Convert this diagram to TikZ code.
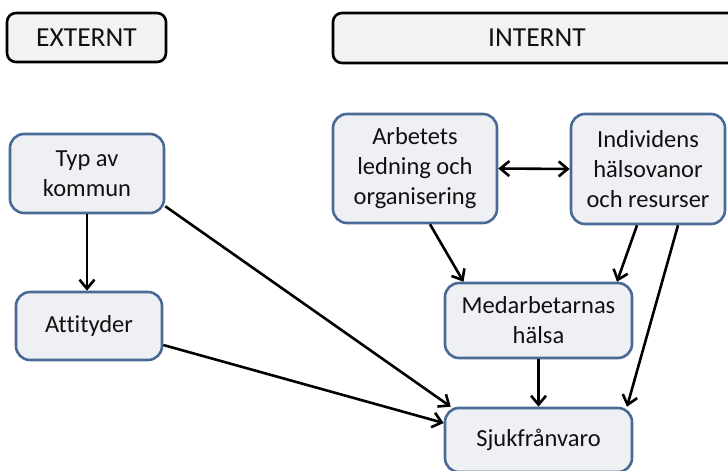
\documentclass[tikz,border=0pt]{standalone}
\usepackage{fontspec}
\setmainfont[Ligatures=NoCommon]{Carlito}
\usetikzlibrary{arrows.meta,calc}
\definecolor{boxfill}{HTML}{EEF0F4}
\definecolor{boxline}{HTML}{4A6A96}
\definecolor{headfill}{HTML}{F2F2F2}
\definecolor{txt}{HTML}{111111}
\tikzset{
  headbox/.style={draw=black, fill=headfill, line width=2.6pt, rounded corners=9pt,
    font=\fontsize{27.5}{32}\selectfont, text=txt, inner sep=0pt},
  factor/.style={draw=boxline, fill=boxfill, line width=2.6pt, rounded corners=14pt,
    font=\fontsize{24.5}{30}\selectfont, text=txt, align=center, inner sep=0pt},
  link/.style={line width=2.6pt, -{Straight Barb[length=9pt,width=15pt,line width=2.6pt]}},
  dlink/.style={line width=2.6pt, {Straight Barb[length=9pt,width=15pt,line width=2.6pt]}-{Straight Barb[length=9pt,width=15pt,line width=2.6pt]}}
}
\begin{document}
\begin{tikzpicture}[x=1pt,y=-1pt]
\useasboundingbox (0,0) rectangle (728,471);
\node[headbox, minimum width=159pt, minimum height=49pt] (ext) at (86.5,37.5) {EXTERNT};
\node[headbox, minimum width=408pt, minimum height=50pt] (int) at (537,38) {INTERNT};
\node[factor, minimum width=154pt, minimum height=79pt] (typ) at (87,173.5) {Typ av\\kommun};
\node[factor, minimum width=146pt, minimum height=68pt] (att) at (89,326) {Attityder};
\node[factor, minimum width=164pt, minimum height=109pt] (arb) at (415,168.5) {Arbetets\\ledning och\\organisering};
\node[factor, minimum width=154pt, minimum height=110pt] (ind) at (648,169) {Individens\\hälsovanor\\och resurser};
\node[factor, minimum width=187pt, minimum height=75pt] (med) at (538.5,320.5) {Medarbetarnas\\hälsa};
\node[factor, minimum width=187pt, minimum height=64pt] (sjuk) at (538.5,440) {Sjukfrånvaro};

\draw[link] (typ.south) -- (typ.south |- att.north);
\draw[link] ($(typ.south east)+(0,-8)$) -- ($(sjuk.north west)+(7,0)$);
\draw[link] ($(att.east)+(0,19)$) -- ($(sjuk.west)+(0,-17)$);
\draw[link] ($(arb.south)+(15,0)$) -- ($(med.north)+(-75,0)$);
\draw[link] ($(ind.south)+(-11,0)$) -- ($(med.north)+(78.5,0)$);
\draw[link] ($(ind.south)+(30,0)$) -- ($(sjuk.north)+(88.5,0)$);
\draw[link] (med.south) -- (sjuk.north);
\draw[dlink] (arb.east) -- (ind.west);
\end{tikzpicture}
\end{document}
